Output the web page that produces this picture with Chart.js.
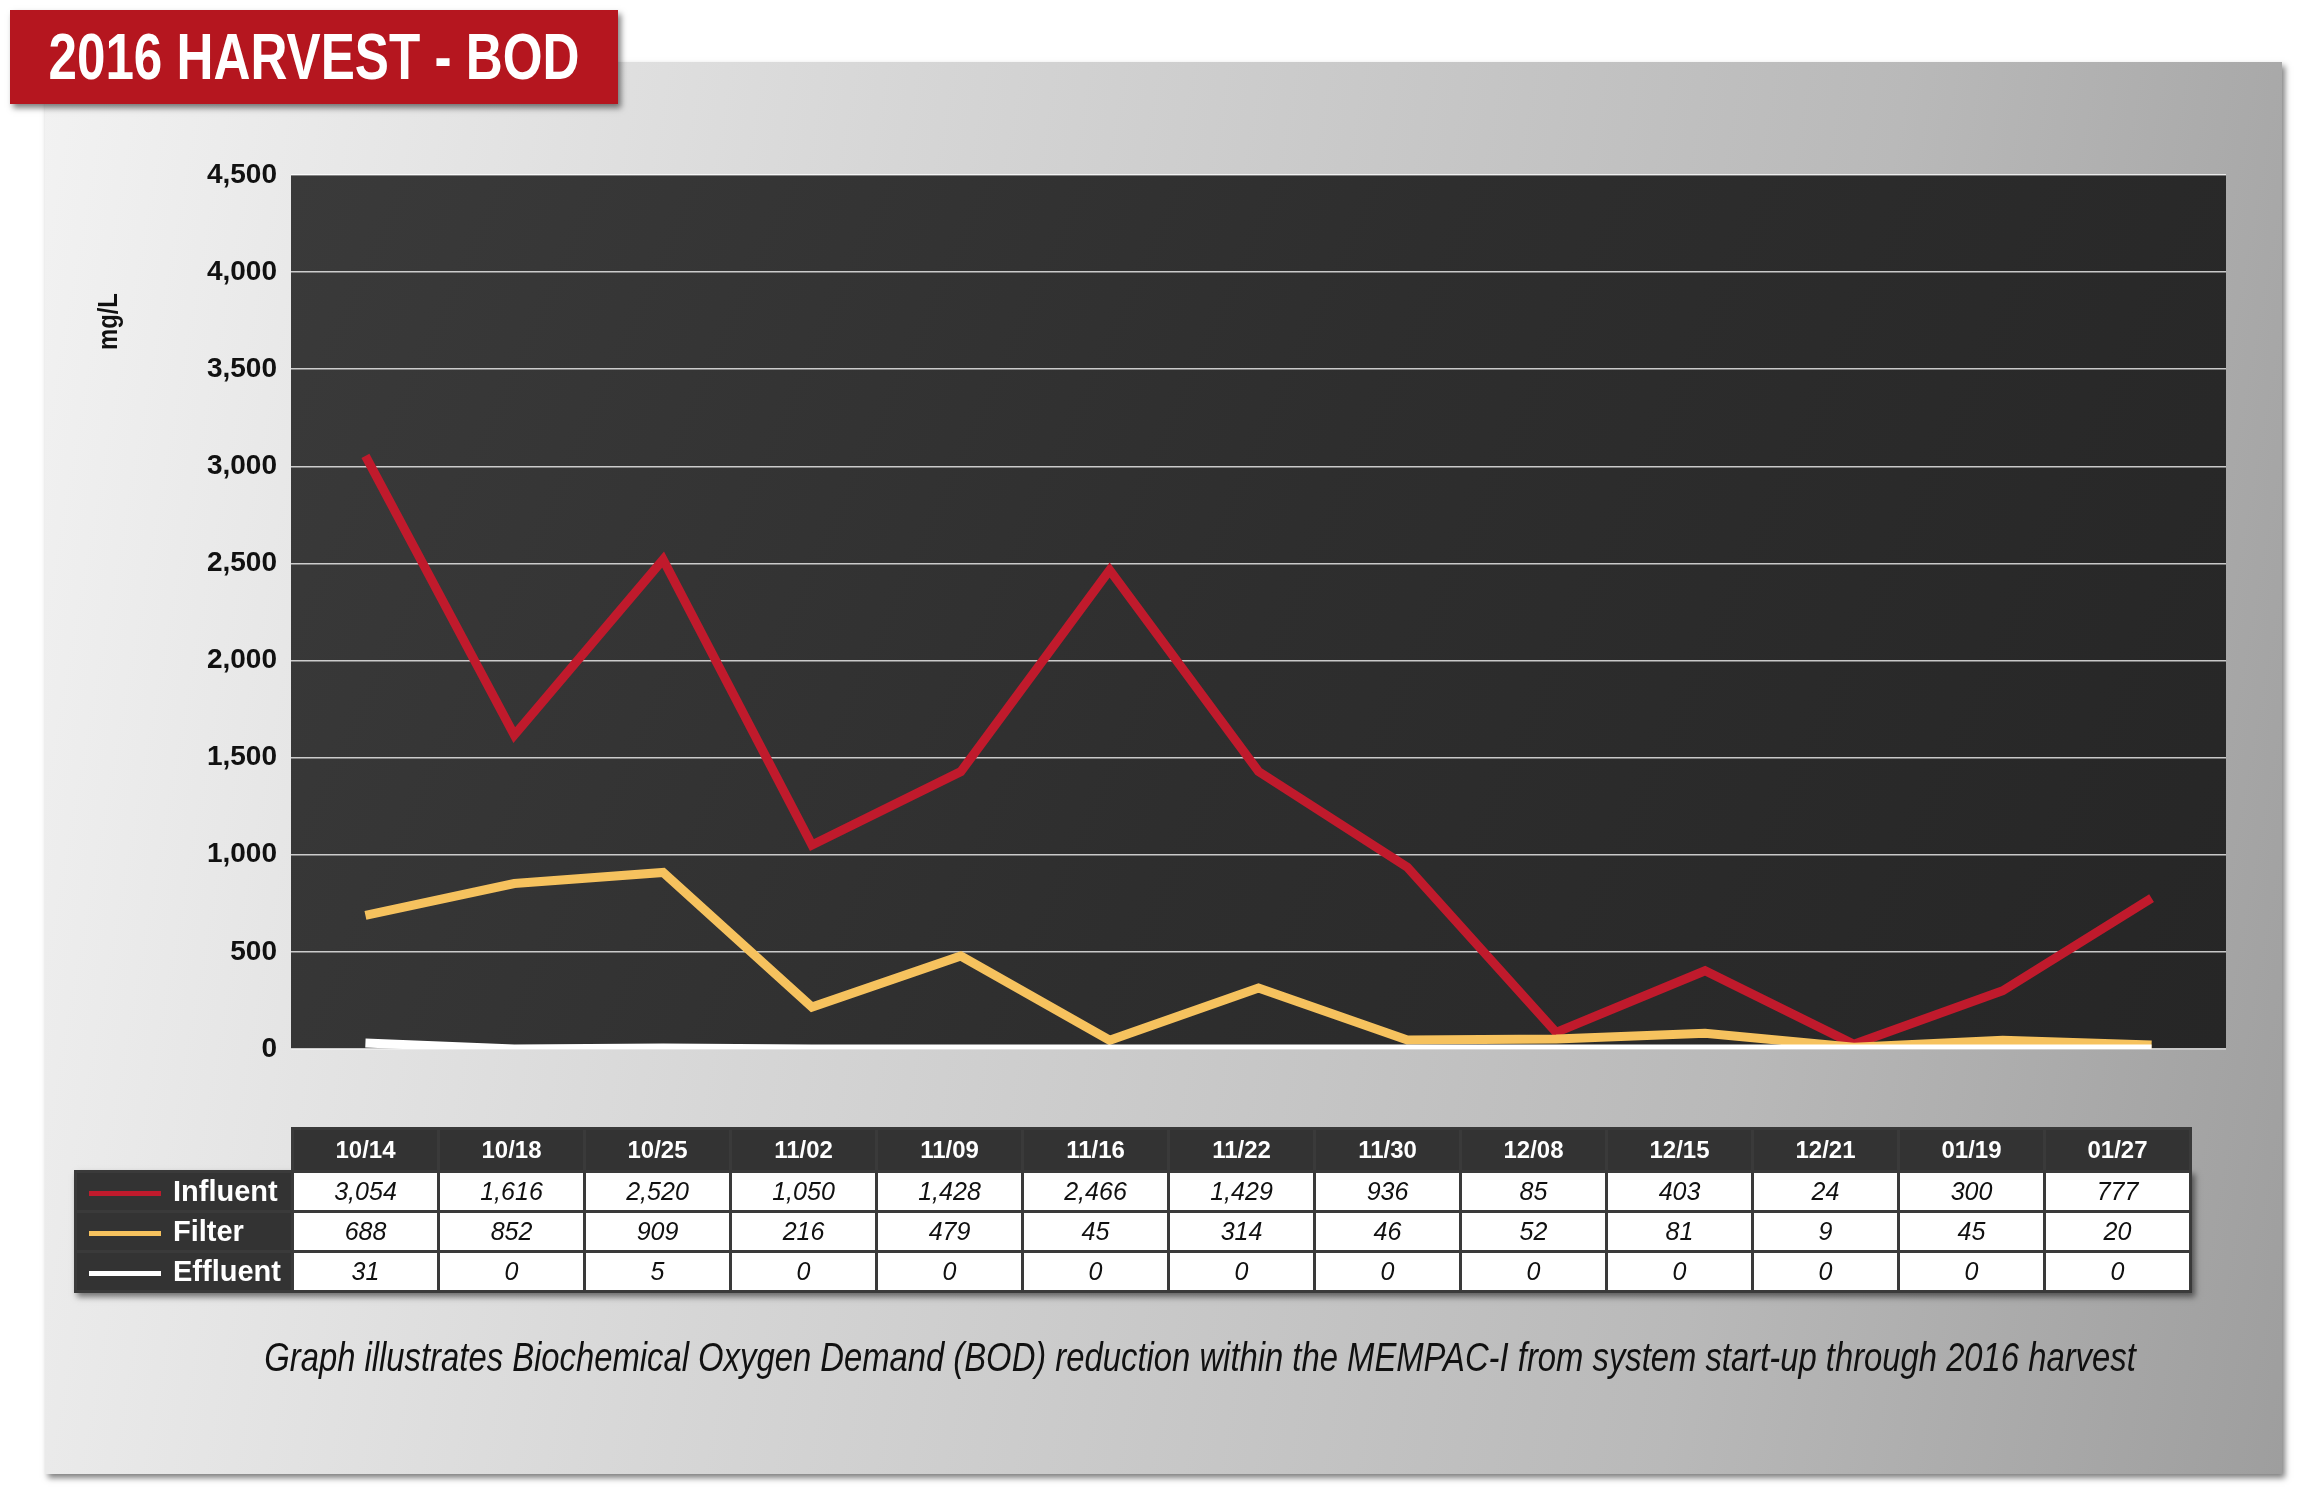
<!DOCTYPE html>
<html>
<head>
<meta charset="utf-8">
<script src="https://cdn.jsdelivr.net/npm/chart.js@4/dist/chart.umd.min.js"></script>
<style>
  body { margin: 0; width: 2297px; height: 1500px; background: #fff; position: relative; overflow: hidden;
         font-family: "Liberation Sans", Arial, sans-serif; }
  #panel { position: absolute; left: 45px; top: 62px; width: 2237px; height: 1412px;
           background: linear-gradient(100deg, #f2f2f2 0%, #d6d6d6 35%, #b9b9b9 75%, #9e9e9e 100%);
           box-shadow: 3px 4px 6px rgba(0,0,0,0.5); }
  #title { position: absolute; left: 10px; top: 10px; width: 608px; height: 94px; background: #b5161f;
           box-shadow: 3px 4px 6px rgba(0,0,0,0.5); }
  #title span { position: absolute; left: 304px; top: 47px; transform: translate(-50%,-50%) scaleX(0.8);
           color: #fff; font-weight: bold; font-size: 64px; white-space: nowrap; }
  #wrap { position: absolute; left: 0; top: 0; width: 2297px; height: 1500px; }
  #ylab { position: absolute; left: 92px; top: 350px; transform: rotate(-90deg) scaleX(0.85); transform-origin: left top;
          font-weight: bold; font-size: 28px; color: #111; }
  #tblwrap { position: absolute; left: 74px; top: 1127px; }
  #tblshadow { position: absolute; left: 0; top: 43px; right: 0; bottom: 0; box-shadow: 3px 4px 6px rgba(0,0,0,0.5); }
  table { position: relative; border-collapse: collapse; table-layout: fixed; }
  td { width: 143px; height: 37px; text-align: center; font-size: 25px; font-style: italic; color: #111;
       background: #fff; border: 3px solid #3a3a3a; padding: 0; white-space: nowrap; overflow: hidden; }
  tr.head td { background: #333; color: #fff; font-style: normal; font-weight: bold; font-size: 24px; height: 40px; }
  tr.head td.blank { background: transparent; border: none; }
  td.leg { width: 214px; background: #333; color: #fff; font-style: normal; font-weight: bold; font-size: 29px;
           text-align: left; }
  td.leg span.sw { display: inline-block; width: 72px; height: 5px; margin: 0 12px 0 12px; vertical-align: middle; }
  #cap { position: absolute; left: 1200px; top: 1357px; transform: translate(-50%,-50%) scaleX(0.82); white-space: nowrap;
         font-style: italic; font-size: 40px; color: #111; }
</style>
</head>
<body>
<div id="panel"></div>
<div id="title"><span>2016 HARVEST - BOD</span></div>
<div id="wrap"><canvas id="c" width="2297" height="1500"></canvas></div>
<div id="ylab">mg/L</div>
<div id="tblwrap"><div id="tblshadow"></div><table id="tbl"></table></div>
<div id="cap">Graph illustrates Biochemical Oxygen Demand (BOD) reduction within the MEMPAC-I from system start-up through 2016 harvest</div>
<script>
const dates = ['10/14','10/18','10/25','11/02','11/09','11/16','11/22','11/30','12/08','12/15','12/21','01/19','01/27'];
const influent = [3054,1616,2520,1050,1428,2466,1429,936,85,403,24,300,777];
const filter = [688,852,909,216,479,45,314,46,52,81,9,45,20];
const effluent = [31,0,5,0,0,0,0,0,0,0,0,0,0];

const series = [
  { name: 'Influent', data: influent, color: '#c01a2c' },
  { name: 'Filter', data: filter, color: '#f6c25e' },
  { name: 'Effluent', data: effluent, color: '#ffffff' }
];

// build the data table under the chart
const tbl = document.getElementById('tbl');
let html = '<tr class="head"><td class="blank leg"></td>' + dates.map(d => `<td>${d}</td>`).join('') + '</tr>';
series.forEach(s => {
  html += `<tr><td class="leg"><span class="sw" style="background:${s.color}"></span>${s.name}</td>` +
    s.data.map(v => `<td>${v.toLocaleString('en-US')}</td>`).join('') + '</tr>';
});
tbl.innerHTML = html;

const bgPlugin = {
  id: 'bg',
  beforeDraw(chart) {
    const a = chart.chartArea, ctx = chart.ctx;
    const g = ctx.createLinearGradient(a.left, a.top, a.right, a.bottom);
    g.addColorStop(0, '#3a3a3a');
    g.addColorStop(0.5, '#2e2e2e');
    g.addColorStop(1, '#262626');
    ctx.save();
    ctx.fillStyle = g;
    ctx.fillRect(a.left, a.top, a.right - a.left, a.bottom - a.top);
    ctx.restore();
  }
};

new Chart(document.getElementById('c'), {
  type: 'line',
  data: {
    labels: dates,
    datasets: series.slice().reverse().map(s => ({
      label: s.name, data: s.data, borderColor: s.color, borderWidth: 9,
      pointRadius: 0, tension: 0, fill: false
    }))
  },
  options: {
    responsive: false,
    devicePixelRatio: 1,
    animation: false,
    layout: { padding: { left: 170, top: 175, right: 71, bottom: 451 } },
    plugins: { legend: { display: false }, tooltip: { enabled: false } },
    scales: {
      x: { display: false, offset: true },
      y: {
        min: 0, max: 4500,
        afterFit(scale) { scale.width = 121; },
        ticks: { stepSize: 500, color: '#111', padding: 14,
                 font: { family: '"Liberation Sans", sans-serif', size: 28, weight: 'bold' },
                 callback: v => v.toLocaleString('en-US') },
        grid: { color: 'rgba(255,255,255,0.75)', lineWidth: 1.5, drawTicks: false },
        border: { display: false }
      }
    }
  },
  plugins: [bgPlugin]
});
</script>
</body>
</html>
